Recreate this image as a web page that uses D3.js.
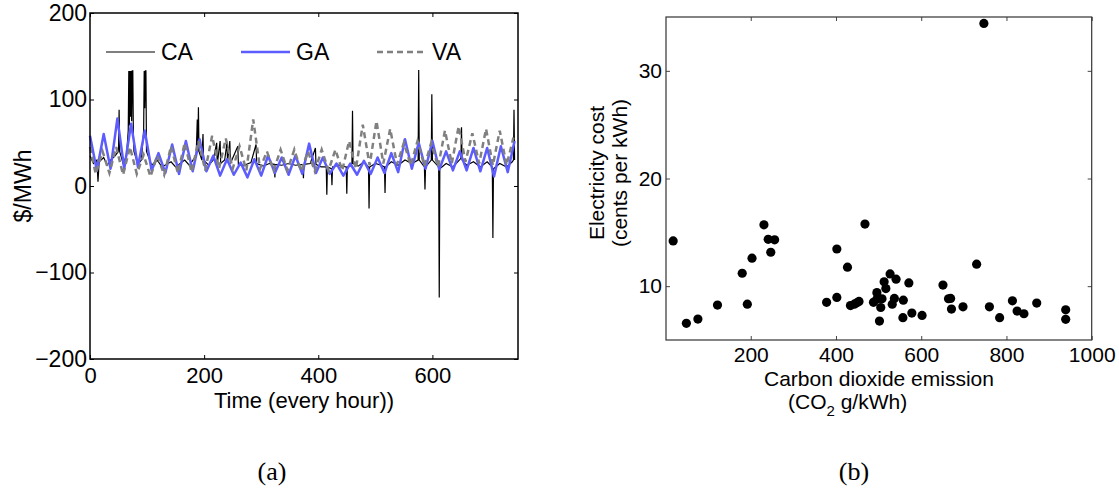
<!DOCTYPE html>
<html>
<head>
<meta charset="utf-8">
<script src="https://cdn.jsdelivr.net/npm/d3@7"></script>
<style>
  body { margin: 0; background: #fff; }
  svg text { font-family: "Liberation Sans", Arial, sans-serif; fill: #000; }
</style>
</head>
<body>
<svg id="chart" width="1119" height="496"></svg>
<script>
// **** Data ****

// (a) hourly prices, GA / VA as one peak and one trough per day
var gaPeaks   = [58, 60, 78, 72, 64, 38, 48, 52, 54, 35, 31, 27, 31, 35, 33, 35, 49, 33, 26, 26, 29, 33, 38, 54, 50, 52, 40, 40, 44, 44, 46, 52];
var gaTroughs = [18, 20, 20, 22, 18, 15, 14, 17, 17, 12, 13, 10, 12, 15, 13, 14, 15, 14, 12, 13, 14, 15, 16, 20, 20, 19, 18, 18, 17, 11, 16];
var vaPeaks   = [45, 40, 45, 45, 36, 35, 46, 50, 52, 58, 55, 46, 77, 40, 42, 42, 40, 42, 42, 52, 71, 75, 66, 50, 52, 50, 64, 69, 61, 66, 64, 56];
var vaTroughs = [14, 15, 13, 14, 11, 13, 15, 16, 18, 20, 20, 18, 20, 18, 18, 17, 17, 18, 18, 20, 24, 26, 25, 24, 23, 22, 26, 28, 26, 24, 24];

// CA as [hour, $/MWh]
var caPoints = [
  [0, 35], [6, 26], [12, 30], [14, 5], [16, 28], [24, 33], [30, 24], [36, 30], [44, 35], [50, 40],
  [51, 88], [52, 40], [58, 26], [64, 35], [67, 64], [68, 133], [69, 70], [70, 133], [71, 80], [72, 133],
  [73, 75], [74, 133], [75, 133], [76, 60], [77, 40], [84, 25], [90, 30],
  [94, 64], [95, 133], [96, 90], [97, 133], [98, 133], [99, 40], [108, 24], [118, 30], [126, 22], [142, 28], [150, 22], [166, 30],
  [174, 24], [186, 35], [188, 77], [189, 40], [190, 91], [191, 40], [196, 30], [198, 60], [199, 30], [208, 24],
  [216, 30], [222, 50], [223, 25], [228, 52], [229, 26], [236, 30], [240, 50], [241, 28], [245, 52], [246, 26],
  [259, 46], [260, 25], [270, 24], [282, 27], [291, 48], [292, 26], [304, 23], [314, 26], [323, 25], [324, 10],
  [325, 25], [336, 24], [348, 26], [360, 24], [373, 25], [374, 9], [375, 25], [386, 26], [395, 44], [396, 25],
  [405, 22], [414, 22], [415, -10], [416, 22], [423, 20], [424, 1], [425, 22], [436, 24], [449, 22], [450, -9],
  [451, 22], [459, 26], [460, 87], [461, 26], [470, 23], [480, 28], [488, 22], [489, -26], [490, 22], [500, 26],
  [510, 24], [516, 22], [517, -8], [518, 22], [528, 28], [540, 24], [552, 30], [564, 26], [575, 30], [576, 134],
  [577, 30], [586, 22], [587, -4], [588, 22], [598, 30], [599, 106], [600, 30], [611, 22], [612, -129], [613, 20],
  [624, 26], [636, 22], [650, 32], [651, 68], [652, 30], [660, 24], [672, 28], [684, 22], [696, 28], [705, 22],
  [706, -60], [707, 20], [718, 26], [730, 22], [740, 28], [742, 30], [743, 88], [744, 30]
];

var seriesNames = ['CA', 'GA', 'VA'];

// (b) one dot per state
var emission = [18, 49, 76, 122, 180, 192, 203, 231, 241, 256, 247, 378, 402, 402, 427, 434, 443, 449, 454, 468,
                488, 496, 496, 508, 505, 502, 513, 517, 527, 532, 537, 541, 558, 557, 571, 578, 602, 651, 664, 669,
                671, 698, 730, 760, 784, 814, 825, 841, 871, 939, 939, 747];
var cost     = [14.2, 6.55, 6.94, 8.24, 11.2, 8.33, 12.6, 15.7, 14.35, 14.3, 13.15, 8.5, 8.95, 13.45, 11.76, 8.2, 8.33, 8.46, 8.58, 15.77,
                8.5, 9.4, 8.8, 8.83, 8.02, 6.76, 10.4, 9.78, 11.14, 8.33, 8.86, 10.65, 8.7, 7.07, 10.3, 7.5, 7.28, 10.1, 8.83, 8.86,
                7.87, 8.08, 12.04, 8.08, 7.07, 8.64, 7.69, 7.44, 8.43, 7.8, 6.92, 34.4];

var timeTicks = [0, 200, 400, 600];
var priceTicks = [-200, -100, 0, 100, 200];
var emissionTicks = [200, 400, 600, 800, 1000];
var costTicks = [10, 20, 30];

// **** Build the series ****

var gaPoints = [];
gaPeaks.forEach(function(v, k) {
    gaPoints.push([k * 24, v]);
    if (k < gaTroughs.length) gaPoints.push([k * 24 + 12, gaTroughs[k]]);
});
var vaPoints = [];
vaPeaks.forEach(function(v, k) {
    vaPoints.push([Math.max(0, k * 24 - 2), v]);
    if (k < vaTroughs.length) vaPoints.push([k * 24 + 10, vaTroughs[k]]);
});

var svg = d3.select('#chart');

// **** (a) price time series ****

var timeScale = d3.scaleLinear().domain([0, 750]).range([90, 518]);
var priceScale = d3.scaleLinear().domain([-200, 200]).range([359, 13]);

var line = d3.line()
    .x(function(d) { return timeScale(d[0]); })
    .y(function(d) { return priceScale(d[1]); });

var plotA = svg.append('g');

plotA.append('path').datum(caPoints)
    .attr('d', line).attr('fill', 'none')
    .attr('stroke', '#000').attr('stroke-width', 1.2);

plotA.append('path').datum(gaPoints)
    .attr('d', line).attr('fill', 'none')
    .attr('stroke', '#5c5cff').attr('stroke-width', 2.5)
    .attr('stroke-linejoin', 'round');

plotA.append('path').datum(vaPoints)
    .attr('d', line).attr('fill', 'none')
    .attr('stroke', '#808080').attr('stroke-width', 2.5)
    .attr('stroke-dasharray', '6,4');

function styleAxis(g, size, color) {
    g.select('.domain').remove();
    g.selectAll('.tick line').attr('stroke', color);
    g.selectAll('.tick text').attr('font-size', size).style('font-family', '"Liberation Sans", Arial, sans-serif');
}

var plain = d3.format('d');

plotA.append('g').attr('transform', 'translate(0,359)')
    .call(d3.axisBottom(timeScale).tickValues(timeTicks).tickFormat(plain).tickSize(-4).tickPadding(8))
    .call(styleAxis, 22, '#000');
plotA.append('g').attr('transform', 'translate(0,13)')
    .call(d3.axisTop(timeScale).tickValues(timeTicks).tickSize(-4).tickFormat(''))
    .call(styleAxis, 22, '#000');
plotA.append('g').attr('transform', 'translate(90,0)')
    .call(d3.axisLeft(priceScale).tickValues(priceTicks).tickFormat(plain).tickSize(-4).tickPadding(3))
    .call(styleAxis, 23, '#000');
plotA.append('g').attr('transform', 'translate(518,0)')
    .call(d3.axisRight(priceScale).tickValues(priceTicks).tickSize(-4).tickFormat(''))
    .call(styleAxis, 23, '#000');

plotA.append('rect')
    .attr('x', 90).attr('y', 13).attr('width', 428).attr('height', 346)
    .attr('fill', 'none').attr('stroke', '#000').attr('stroke-width', 1.5);

// legend
var legendX = [106, 241, 377];
var legendStyle = [
    { color: '#000', width: 1.2, dash: null },
    { color: '#5c5cff', width: 2.5, dash: null },
    { color: '#808080', width: 2.5, dash: '6,4' }
];
seriesNames.forEach(function(name, i) {
    plotA.append('line')
        .attr('x1', legendX[i]).attr('x2', legendX[i] + 49)
        .attr('y1', 52).attr('y2', 52)
        .attr('stroke', legendStyle[i].color)
        .attr('stroke-width', legendStyle[i].width)
        .attr('stroke-dasharray', legendStyle[i].dash);
    plotA.append('text')
        .attr('x', legendX[i] + 55).attr('y', 60)
        .attr('font-size', 23)
        .text(name);
});

plotA.append('text')
    .attr('x', 304).attr('y', 408)
    .attr('text-anchor', 'middle').attr('font-size', 22)
    .text('Time (every hour))');

plotA.append('text')
    .attr('transform', 'translate(31,186) rotate(-90)')
    .attr('text-anchor', 'middle').attr('font-size', 23)
    .text('$/MWh');

// **** (b) scatter ****

var emissionScale = d3.scaleLinear().domain([0, 1000]).range([665.5, 1091.7]);
var costScale = d3.scaleLinear().domain([5, 35]).range([340, 17]);

var plotB = svg.append('g');

plotB.append('g').attr('transform', 'translate(0,340)')
    .call(d3.axisBottom(emissionScale).tickValues(emissionTicks).tickFormat(plain).tickSize(-4).tickPadding(7))
    .call(styleAxis, 21, '#444');
plotB.append('g').attr('transform', 'translate(666,0)')
    .call(d3.axisLeft(costScale).tickValues(costTicks).tickFormat(plain).tickSize(-4).tickPadding(4))
    .call(styleAxis, 21, '#444');
plotB.append('g').attr('transform', 'translate(0,17)')
    .call(d3.axisTop(emissionScale).tickValues(emissionTicks).tickSize(-4).tickFormat(''))
    .call(styleAxis, 21, '#444');
plotB.append('g').attr('transform', 'translate(1091.7,0)')
    .call(d3.axisRight(costScale).tickValues(costTicks).tickSize(-4).tickFormat(''))
    .call(styleAxis, 21, '#444');

plotB.append('rect')
    .attr('x', 666).attr('y', 17).attr('width', 425.7).attr('height', 323)
    .attr('fill', 'none').attr('stroke', '#333').attr('stroke-width', 1.2);

plotB.selectAll('circle')
    .data(emission)
    .enter()
    .append('circle')
    .attr('cx', function(d) { return emissionScale(d); })
    .attr('cy', function(d, i) { return costScale(cost[i]); })
    .attr('r', 4.6)
    .attr('fill', '#000');

plotB.append('text')
    .attr('x', 879).attr('y', 386)
    .attr('text-anchor', 'middle').attr('font-size', 21)
    .text('Carbon dioxide emission');

var co2 = plotB.append('text')
    .attr('x', 788).attr('y', 409)
    .attr('font-size', 21);
co2.append('tspan').text('(CO');
co2.append('tspan').attr('font-size', 15).attr('dy', 7).text('2');
co2.append('tspan').attr('dy', -7).text(' g/kWh)');

plotB.append('text')
    .attr('transform', 'translate(604,173) rotate(-90)')
    .attr('text-anchor', 'middle').attr('font-size', 21)
    .text('Electricity cost');
plotB.append('text')
    .attr('transform', 'translate(627,173) rotate(-90)')
    .attr('text-anchor', 'middle').attr('font-size', 21)
    .text('(cents per kWh)');

// **** captions ****
svg.append('text')
    .attr('x', 272).attr('y', 480)
    .attr('text-anchor', 'middle').attr('font-size', 26)
    .style('font-family', '"Liberation Serif", "DejaVu Serif", serif')
    .text('(a)');
svg.append('text')
    .attr('x', 854).attr('y', 480)
    .attr('text-anchor', 'middle').attr('font-size', 26)
    .style('font-family', '"Liberation Serif", "DejaVu Serif", serif')
    .text('(b)');
</script>
</body>
</html>
